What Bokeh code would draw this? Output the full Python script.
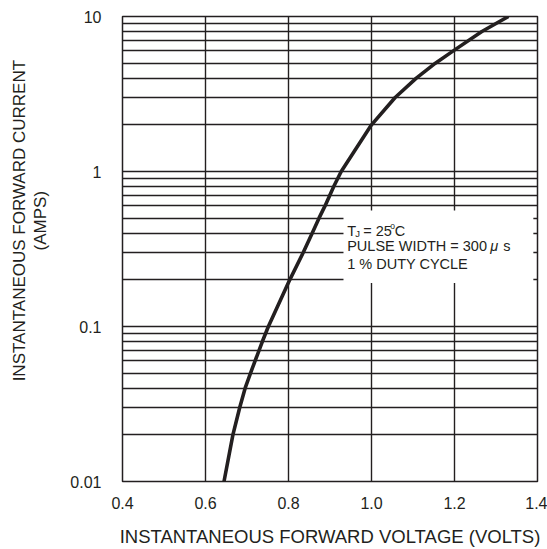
from bokeh.plotting import figure
from bokeh.models import FixedTicker, Range1d
from bokeh.core.properties import value
from bokeh.embed import file_html
from bokeh.resources import INLINE

# ---- data ----
volts = [0.6446, 0.6660, 0.6825, 0.6955, 0.7085, 0.7195, 0.7370, 0.7515,
         0.8030, 0.8355, 0.8570, 0.8735, 0.8880, 0.9090, 0.9270,
         1.000, 1.057, 1.108, 1.154, 1.197, 1.266, 1.330]
amps = [0.01, 0.02, 0.03, 0.04, 0.05, 0.06, 0.08, 0.1,
        0.2, 0.3, 0.4, 0.5, 0.6, 0.8, 1.0,
        2.0, 3.0, 4.0, 5.0, 6.0, 8.0, 10.0]

x_ticks = [0.4, 0.6, 0.8, 1.0, 1.2, 1.4]
x_tick_labels = ["0.4", "0.6", "0.8", "1.0", "1.2", "1.4"]
y_major = [0.01, 0.1, 1, 10]
y_tick_labels = ["0.01", "0.1", "1", "10"]
y_minor = [m * d for d in (0.01, 0.1, 1) for m in (2, 3, 4, 5, 6, 7, 8, 9)]

x_title = "INSTANTANEOUS FORWARD VOLTAGE (VOLTS)"
y_title_lines = ["INSTANTANEOUS FORWARD CURRENT", "(AMPS)"]
note_lines = ["PULSE WIDTH = 300", "1 % DUTY CYCLE"]

INK = "#231f20"
FONT = value("Liberation Sans")

p = figure(width=547, height=549, y_axis_type="log",
           x_range=Range1d(0.4, 1.4), y_range=Range1d(0.01, 10),
           output_backend="svg", toolbar_location=None,
           min_border_left=122, min_border_right=10,
           min_border_top=16, min_border_bottom=65)

p.background_fill_color = "white"
p.outline_line_color = INK
p.outline_line_width = 1.5

# axes
p.xaxis.ticker = FixedTicker(ticks=x_ticks)
p.xaxis.major_label_overrides = {t: l for t, l in zip(x_ticks, x_tick_labels)}
p.yaxis.ticker = FixedTicker(ticks=y_major, minor_ticks=y_minor)
p.yaxis.major_label_overrides = {t: l for t, l in zip(y_major, y_tick_labels)}

for ax in (p.xaxis[0], p.yaxis[0]):
    ax.axis_line_color = None
    ax.major_tick_line_color = None
    ax.minor_tick_line_color = None
    ax.major_label_text_font = "Liberation Sans"
    ax.major_label_text_font_size = "16px"
    ax.major_label_text_color = INK
    ax.axis_label_text_font = "Liberation Sans"
    ax.axis_label_text_font_style = "normal"
    ax.axis_label_text_color = INK

p.xaxis.axis_label = x_title
p.xaxis.axis_label_text_font_size = "18.5px"
p.xaxis.major_label_standoff = 9
p.xaxis.axis_label_standoff = 14

pad = "\u00a0" * 12  # nudges the title's centre upward like the reference
p.yaxis.axis_label = "\n".join(pad + s for s in y_title_lines)
p.yaxis.axis_label_text_font_size = "17px"
p.yaxis.axis_label_text_line_height = 1.1
p.yaxis.major_label_standoff = 15
p.yaxis.axis_label_standoff = 17

# grids
for g in (p.xgrid[0], p.ygrid[0]):
    g.grid_line_color = INK
    g.grid_line_width = 1.4
p.ygrid.minor_grid_line_color = INK
p.ygrid.minor_grid_line_width = 1.4

# curve
p.line(volts, amps, line_width=3.6, line_color=INK, line_join="round")

# white note box covering the grid
p.quad(left=[0.9325], right=[1.39], bottom=[0.191], top=[0.56],
       fill_color="white", line_color=None)

x0 = 0.9414
fs = "14.5px"
tkw = dict(text_font=FONT, text_color=INK, text_baseline="middle", text_align="left")
p.text(x=[x0], y=[0.414], text=["T"], text_font_size=fs, **tkw)
p.text(x=[x0], y=[0.414], text=["J"], text_font_size="9.5px", x_offset=8, y_offset=3, **tkw)
p.text(x=[x0], y=[0.414], text=["= 25"], text_font_size=fs, x_offset=16, **tkw)
p.text(x=[x0], y=[0.414], text=["o"], text_font_size="8.5px", x_offset=43, y_offset=-5, **tkw)
p.text(x=[x0], y=[0.414], text=["C"], text_font_size=fs, x_offset=47.5, **tkw)
p.text(x=[x0], y=[0.330], text=[note_lines[0]], text_font_size=fs, **tkw)
p.text(x=[x0], y=[0.330], text=["\u03bc"], text_font_size=fs, text_font_style="italic",
       x_offset=143, text_font=FONT, text_color=INK, text_baseline="middle", text_align="left")
p.text(x=[x0], y=[0.330], text=["s"], text_font_size=fs, x_offset=156, **tkw)
p.text(x=[x0], y=[0.2535], text=[note_lines[1]], text_font_size=fs, **tkw)

open("out.html", "w").write(file_html(p, INLINE))
